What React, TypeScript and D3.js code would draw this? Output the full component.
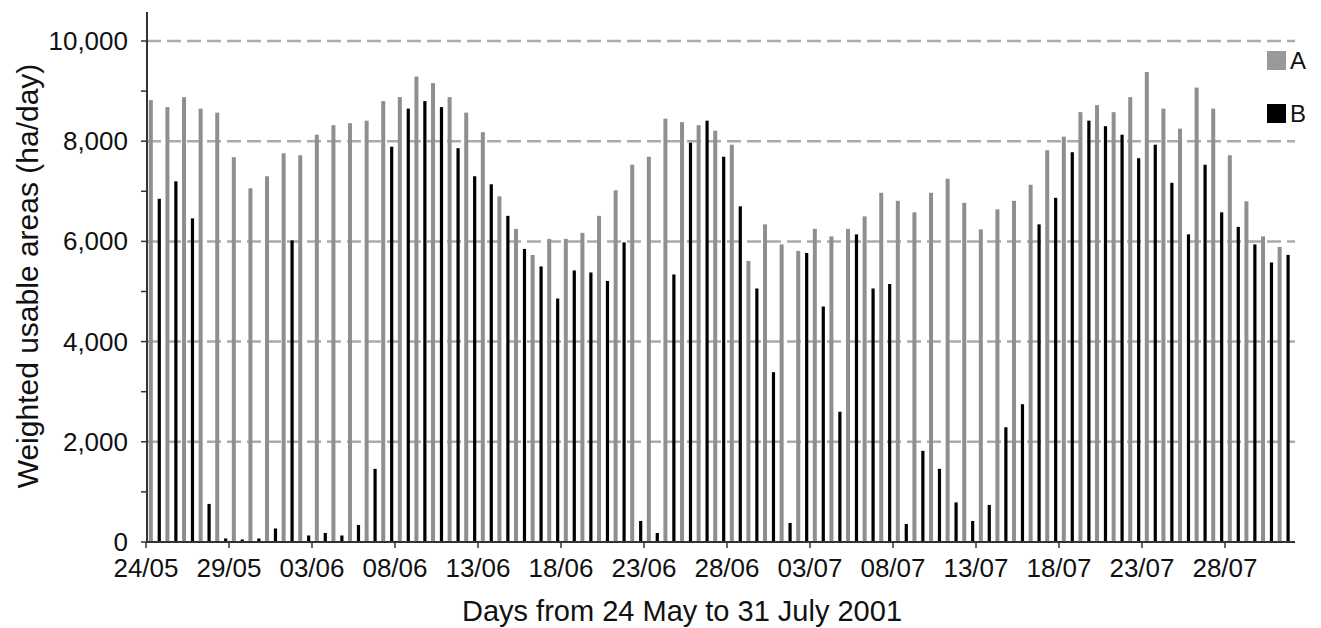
import React from "react";
import * as d3 from "d3";

const tickLabels = ["24/05", "29/05", "03/06", "08/06", "13/06", "18/06", "23/06", "28/06", "03/07", "08/07", "13/07", "18/07", "23/07", "28/07"];

const seriesA = [
  8820, 8680, 8880, 8650, 8570, 7680, 7060, 7300, 7760, 7720,
  8130, 8320, 8360, 8410, 8800, 8880, 9290, 9160, 8880, 8570,
  8180, 6900, 6250, 5730, 6050, 6050, 6170, 6510, 7020, 7530,
  7690, 8450, 8380, 8320, 8210, 7930, 5610, 6340, 5940, 5810,
  6250, 6100, 6250, 6500, 6970, 6810, 6580, 6970, 7250, 6770,
  6240, 6640, 6810, 7130, 7820, 8090, 8580, 8720, 8580, 8880,
  9380, 8650, 8250, 9070, 8650, 7720, 6800, 6100, 5890,
];

const seriesB = [
  6850, 7200, 6460, 760, 70, 50, 70, 270, 6020, 130,
  180, 130, 340, 1460, 7890, 8650, 8800, 8680, 7860, 7300,
  7140, 6510, 5850, 5500, 4860, 5420, 5380, 5210, 5980, 420,
  180, 5340, 7970, 8410, 7690, 6700, 5060, 3390, 380, 5770,
  4700, 2600, 6140, 5060, 5150, 360, 1820, 1460, 790, 420,
  740, 2290, 2750, 6340, 6870, 7780, 8410, 8300, 8130, 7660,
  7930, 7170, 6140, 7530, 6580, 6290, 5940, 5580, 5730,
];

const seriesNames = ["A", "B"];
const seriesColors = ["#8f8f8f", "#000000"];
const yTicks = d3.range(0, 10001, 1000);
const yLabelTicks = d3.range(0, 10001, 2000);
const gridValues = [2000, 4000, 6000, 8000, 10000];

const FONT = "'Liberation Sans', Arial, Helvetica, sans-serif";

export default function App() {
  const days = d3.range(seriesA.length);
  const x = d3
    .scaleBand<number>()
    .domain(days)
    .range([146, 146 + 16.6 * days.length])
    .paddingInner(0)
    .paddingOuter(0);
  const inner = d3
    .scaleBand<string>()
    .domain(seriesNames)
    .range([0.6, x.bandwidth() + 0.9]);
  const y = d3.scaleLinear().domain([0, 10000]).range([542, 41]);

  const axisLeft = 147;
  const axisRight = 1295;
  const y0 = y(0);
  const barWidths = [4, 3.2];
  const data = [seriesA, seriesB];

  return (
    <svg
      width={1321}
      height={628}
      style={{ position: "absolute", left: 0, top: 0, background: "#fff" }}
      fontFamily={FONT}
    >
      <rect x={0} y={0} width={1321} height={628} fill="#fff" />
      {gridValues.map((v) => (
        <line
          key={"g" + v}
          x1={axisLeft}
          x2={axisRight}
          y1={y(v)}
          y2={y(v)}
          stroke="#ababab"
          strokeWidth={2.5}
          strokeDasharray="14 6"
        />
      ))}
      {data.map((series, si) =>
        series.map((v, i) => {
          const cx = (x(i) as number) + (inner(seriesNames[si]) as number) + inner.bandwidth() / 2;
          const w = barWidths[si];
          return (
            <rect
              key={seriesNames[si] + i}
              x={cx - w / 2}
              y={y(v)}
              width={w}
              height={y0 - y(v)}
              fill={seriesColors[si]}
            />
          );
        })
      )}
      <line x1={axisLeft} x2={axisLeft} y1={12} y2={y0} stroke="#333" strokeWidth={2} />
      {yTicks.map((t) => (
        <line key={"yt" + t} x1={axisLeft - 6} x2={axisLeft} y1={y(t)} y2={y(t)} stroke="#333" strokeWidth={1.5} />
      ))}
      {yLabelTicks.map((t) => (
        <text
          key={"yl" + t}
          x={128}
          y={y(t) + 9}
          textAnchor="end"
          fontSize={26}
          fill="#111"
        >
          {d3.format(",")(t)}
        </text>
      ))}
      <line x1={146} x2={axisRight} y1={y0} y2={y0} stroke="#333" strokeWidth={2} />
      {tickLabels.map((lab, k) => {
        const xi = x(k * 5) as number;
        return (
          <g key={"xt" + k}>
            <line x1={xi} x2={xi} y1={y0} y2={y0 + 6} stroke="#333" strokeWidth={1.5} />
            <text x={xi} y={577} textAnchor="middle" fontSize={26} fill="#111">
              {lab}
            </text>
          </g>
        );
      })}
      <text x={682} y={621} textAnchor="middle" fontSize={29} fill="#111">
        Days from 24 May to 31 July 2001
      </text>
      <text
        transform={`translate(27, ${276}) rotate(-90)`}
        textAnchor="middle"
        dominantBaseline="central"
        fontSize={30}
        fill="#111"
      >
        Weighted usable areas (ha/day)
      </text>
      {seriesNames.map((name, si) => (
        <g key={"leg" + name} transform={`translate(1267, ${51 + si * 53})`}>
          <rect x={0} y={0} width={19} height={19} fill={si === 0 ? "#999" : "#000"} />
          <text x={23} y={18} fontSize={24} fill="#111">
            {name}
          </text>
        </g>
      ))}
    </svg>
  );
}
